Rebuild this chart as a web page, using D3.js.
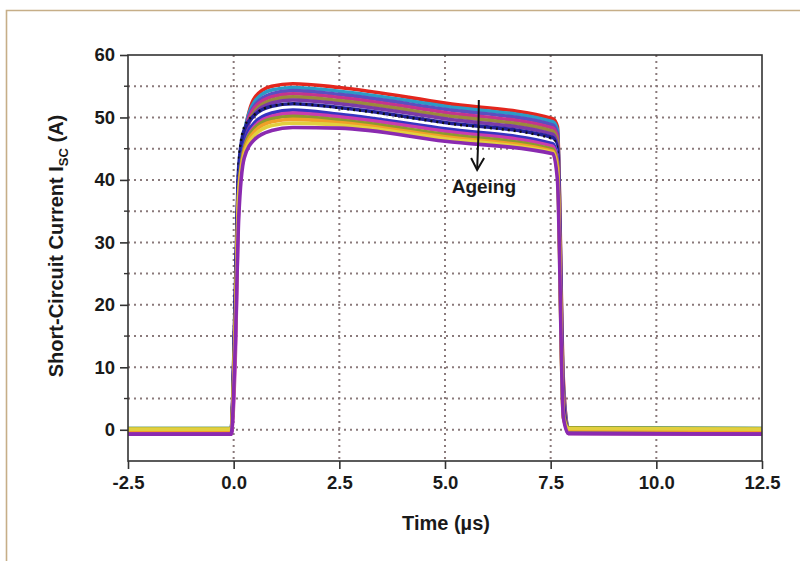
<!DOCTYPE html>
<html>
<head>
<meta charset="utf-8">
<script src="https://cdn.jsdelivr.net/npm/d3@7"></script>
<style>
  body { margin: 0; background: #fff; }
  text { font-family: "Liberation Sans", Arial, sans-serif; font-weight: bold; fill: #1a1a1a; }
</style>
</head>
<body>
<div id="chart"></div>
<script>
// time samples (µs) shared by every trace
const timeUs = [-2.5, -0.06, 0.04, 0.12, 0.25, 0.5, 0.9, 1.4, 2.5, 5.0, 7.55, 7.66, 7.8, 7.92, 12.5];

// short-circuit current (A), one row per ageing step, newest at the bottom
const currentA = [
  [-0.3, -0.3, 18, 40, 47.0, 53.2, 55.0, 55.4, 54.8, 52.3, 49.8, 48.5, 8, 0.0, -0.3],
  [0.2, 0.2, 20, 41, 47.5, 52.6, 54.4, 54.8, 54.2, 51.8, 49.3, 48.0, 7, 0.3, 0.2],
  [-0.5, -0.5, 19, 40, 47.0, 52.0, 53.8, 54.3, 53.7, 51.3, 48.8, 47.4, 6, -0.4, -0.5],
  [0.0, 0.0, 21, 41, 47.0, 51.6, 53.3, 53.8, 53.2, 50.8, 48.3, 46.8, 6, 0.1, 0.0],
  [-0.2, -0.2, 20, 40, 46.5, 51.0, 52.8, 53.3, 52.7, 50.3, 47.8, 46.2, 5, -0.1, -0.2],
  [-0.7, -0.7, 19, 40, 46.5, 50.6, 52.3, 52.8, 52.2, 49.8, 47.3, 45.5, 5, -0.6, -0.7],
  [-0.4, -0.4, 22, 42, 48.0, 50.4, 51.8, 52.2, 51.6, 49.2, 46.8, 45.0, 4, -0.3, -0.4],
  [-0.6, -0.6, 24, 43, 48.5, 50.5, 51.8, 52.2, 51.5, 49.1, 46.6, 44.8, 4, -0.5, -0.6],
  [0.1, 0.1, 8, 34, 45.0, 49.0, 50.8, 51.3, 50.9, 48.6, 46.2, 44.0, 3, 0.2, 0.1],
  [-0.5, -0.5, 20, 40, 45.8, 49.2, 50.7, 51.2, 50.5, 48.2, 45.8, 43.6, 3, -0.4, -0.5],
  [-0.7, -0.7, 12, 36, 45.0, 48.6, 50.2, 50.7, 50.1, 47.8, 45.4, 43.0, 3, -0.6, -0.7],
  [0.2, 0.2, 18, 38, 45.0, 48.3, 49.8, 50.2, 49.6, 47.3, 44.9, 42.5, 2.5, 0.3, 0.2],
  [-0.1, -0.1, 17, 38, 44.5, 47.8, 49.3, 49.7, 49.2, 46.9, 44.6, 42.0, 2, 0.0, -0.1],
  [0.1, 0.1, 16, 37, 44.0, 47.2, 48.7, 49.1, 48.8, 46.6, 44.4, 41.0, 2, 0.2, 0.1],
  [-0.7, -0.7, 14, 34, 43.5, 46.5, 47.9, 48.4, 48.3, 46.2, 44.2, 40.0, 2, -0.6, -0.7]
];

const traceColors = ["#e3261d", "#2b9cc6", "#5a4fc0", "#c5338e", "#9a8a3c", "#7b3aa8", "#22229a",
                     "#111111", "#ffffff", "#3535c2", "#cc3cae", "#8c9a2e", "#f0a028", "#e2cf3e", "#8a2ab0"];

const xTicks = [-2.5, 0, 2.5, 5, 7.5, 10, 12.5];
const yTicks = [0, 10, 20, 30, 40, 50, 60];
const yMinor = [5, 15, 25, 35, 45, 55];
const yGrid = [0, 5, 10, 15, 20, 25, 30, 35, 40, 45, 50, 55];
const xGrid = [0, 2.5, 5, 7.5, 10];

const W = 800, H = 561;
const mLeft = 128, mRight = 762, mTop = 55, mBottom = 461;

const svg = d3.select("#chart").append("svg")
    .attr("width", W)
    .attr("height", H);

// tan frame round the figure
svg.append("path")
    .attr("d", "M6.5,561 L6.5,10.5 L800,10.5")
    .attr("fill", "none")
    .attr("stroke", "#c6ae88")
    .attr("stroke-width", 1.6);

let x = d3.scaleLinear().domain([-2.5, 12.5]).range([mLeft, mRight]);
let y = d3.scaleLinear().domain([-5, 60]).range([mBottom, mTop]);

// dotted grid
svg.append("g")
    .selectAll("line")
    .data(yGrid)
    .enter()
    .append("line")
    .attr("x1", mLeft).attr("x2", mRight)
    .attr("y1", d => y(d)).attr("y2", d => y(d))
    .attr("stroke", "#8a7a7b")
    .attr("stroke-width", 2)
    .attr("stroke-dasharray", "2,4");

svg.append("g")
    .selectAll("line")
    .data(xGrid)
    .enter()
    .append("line")
    .attr("y1", mTop).attr("y2", mBottom)
    .attr("x1", d => x(d)).attr("x2", d => x(d))
    .attr("stroke", "#8a7a7b")
    .attr("stroke-width", 2)
    .attr("stroke-dasharray", "2,4");

svg.append("clipPath").attr("id", "clip")
    .append("rect")
    .attr("x", mLeft).attr("y", mTop)
    .attr("width", mRight - mLeft).attr("height", mBottom - mTop);

let line = d3.line()
    .x((d, i) => x(timeUs[i]))
    .y(d => y(d))
    .curve(d3.curveMonotoneX);

let traces = svg.append("g").attr("clip-path", "url(#clip)");

traces.selectAll("path")
    .data(currentA)
    .enter()
    .append("path")
    .attr("d", d => line(d))
    .attr("fill", "none")
    .attr("stroke", (d, i) => traceColors[i])
    .attr("stroke-width", (d, i) => traceColors[i] == "#ffffff" ? 2 : (traceColors[i] == "#111111" ? 2.4 : 3.6))
    .attr("stroke-dasharray", (d, i) => traceColors[i] == "#111111" ? "2,4" : null)
    .attr("stroke-linejoin", "round");

// axes
let fmtX = d => d3.format(".1f")(d).replace("−", "-");

let axisBottom = svg.append("g")
    .attr("transform", "translate(0," + mBottom + ")")
    .call(d3.axisBottom(x).tickValues(xTicks).tickFormat(fmtX).tickSize(8).tickPadding(7));

let axisLeft = svg.append("g")
    .attr("transform", "translate(" + mLeft + ",0)")
    .call(d3.axisLeft(y).tickValues(yTicks).tickFormat(d3.format("d")).tickSize(8).tickPadding(5));

// minor y ticks
svg.append("g")
    .selectAll("line")
    .data(yMinor)
    .enter()
    .append("line")
    .attr("x1", mLeft - 4).attr("x2", mLeft)
    .attr("y1", d => y(d)).attr("y2", d => y(d))
    .attr("stroke", "#333")
    .attr("stroke-width", 1.4);

[axisBottom, axisLeft].forEach(function(g) {
    g.select(".domain").remove();
    g.selectAll("line").attr("stroke", "#333").attr("stroke-width", 1.6);
    g.selectAll("text")
        .attr("font-size", "18.5px")
        .attr("font-family", "'Liberation Sans', Arial, sans-serif")
        .attr("font-weight", "bold")
        .attr("fill", "#1a1a1a");
});

// box round the plot
svg.append("rect")
    .attr("x", mLeft).attr("y", mTop)
    .attr("width", mRight - mLeft).attr("height", mBottom - mTop)
    .attr("fill", "none")
    .attr("stroke", "#333")
    .attr("stroke-width", 1.6);

// axis titles
svg.append("text")
    .attr("x", (mLeft + mRight) / 2 + 1)
    .attr("y", 530)
    .attr("text-anchor", "middle")
    .attr("font-size", "20px")
    .text("Time (µs)");

let yTitle = svg.append("text")
    .attr("transform", "translate(63,246) rotate(-90)")
    .attr("text-anchor", "middle")
    .attr("font-size", "20px");
yTitle.append("tspan").text("Short-Circuit Current I");
yTitle.append("tspan").attr("font-size", "13px").attr("dy", 5).text("SC");
yTitle.append("tspan").attr("dy", -5).text(" (A)");

// ageing arrow
svg.append("path")
    .attr("d", "M" + x(5.8) + "," + y(52.8) + " Q" + x(5.8) + "," + y(47) + " " + x(5.76) + "," + y(41.6))
    .attr("fill", "none")
    .attr("stroke", "#111")
    .attr("stroke-width", 2);

svg.append("path")
    .attr("d", "M" + (x(5.76) - 6) + "," + (y(41.6) - 12) + " L" + x(5.76) + "," + y(41.6) + " L" + (x(5.76) + 7) + "," + (y(41.6) - 12))
    .attr("fill", "none")
    .attr("stroke", "#111")
    .attr("stroke-width", 2);

svg.append("text")
    .attr("x", x(5.92))
    .attr("y", y(37.9))
    .attr("text-anchor", "middle")
    .attr("font-size", "19px")
    .text("Ageing");
</script>
</body>
</html>
